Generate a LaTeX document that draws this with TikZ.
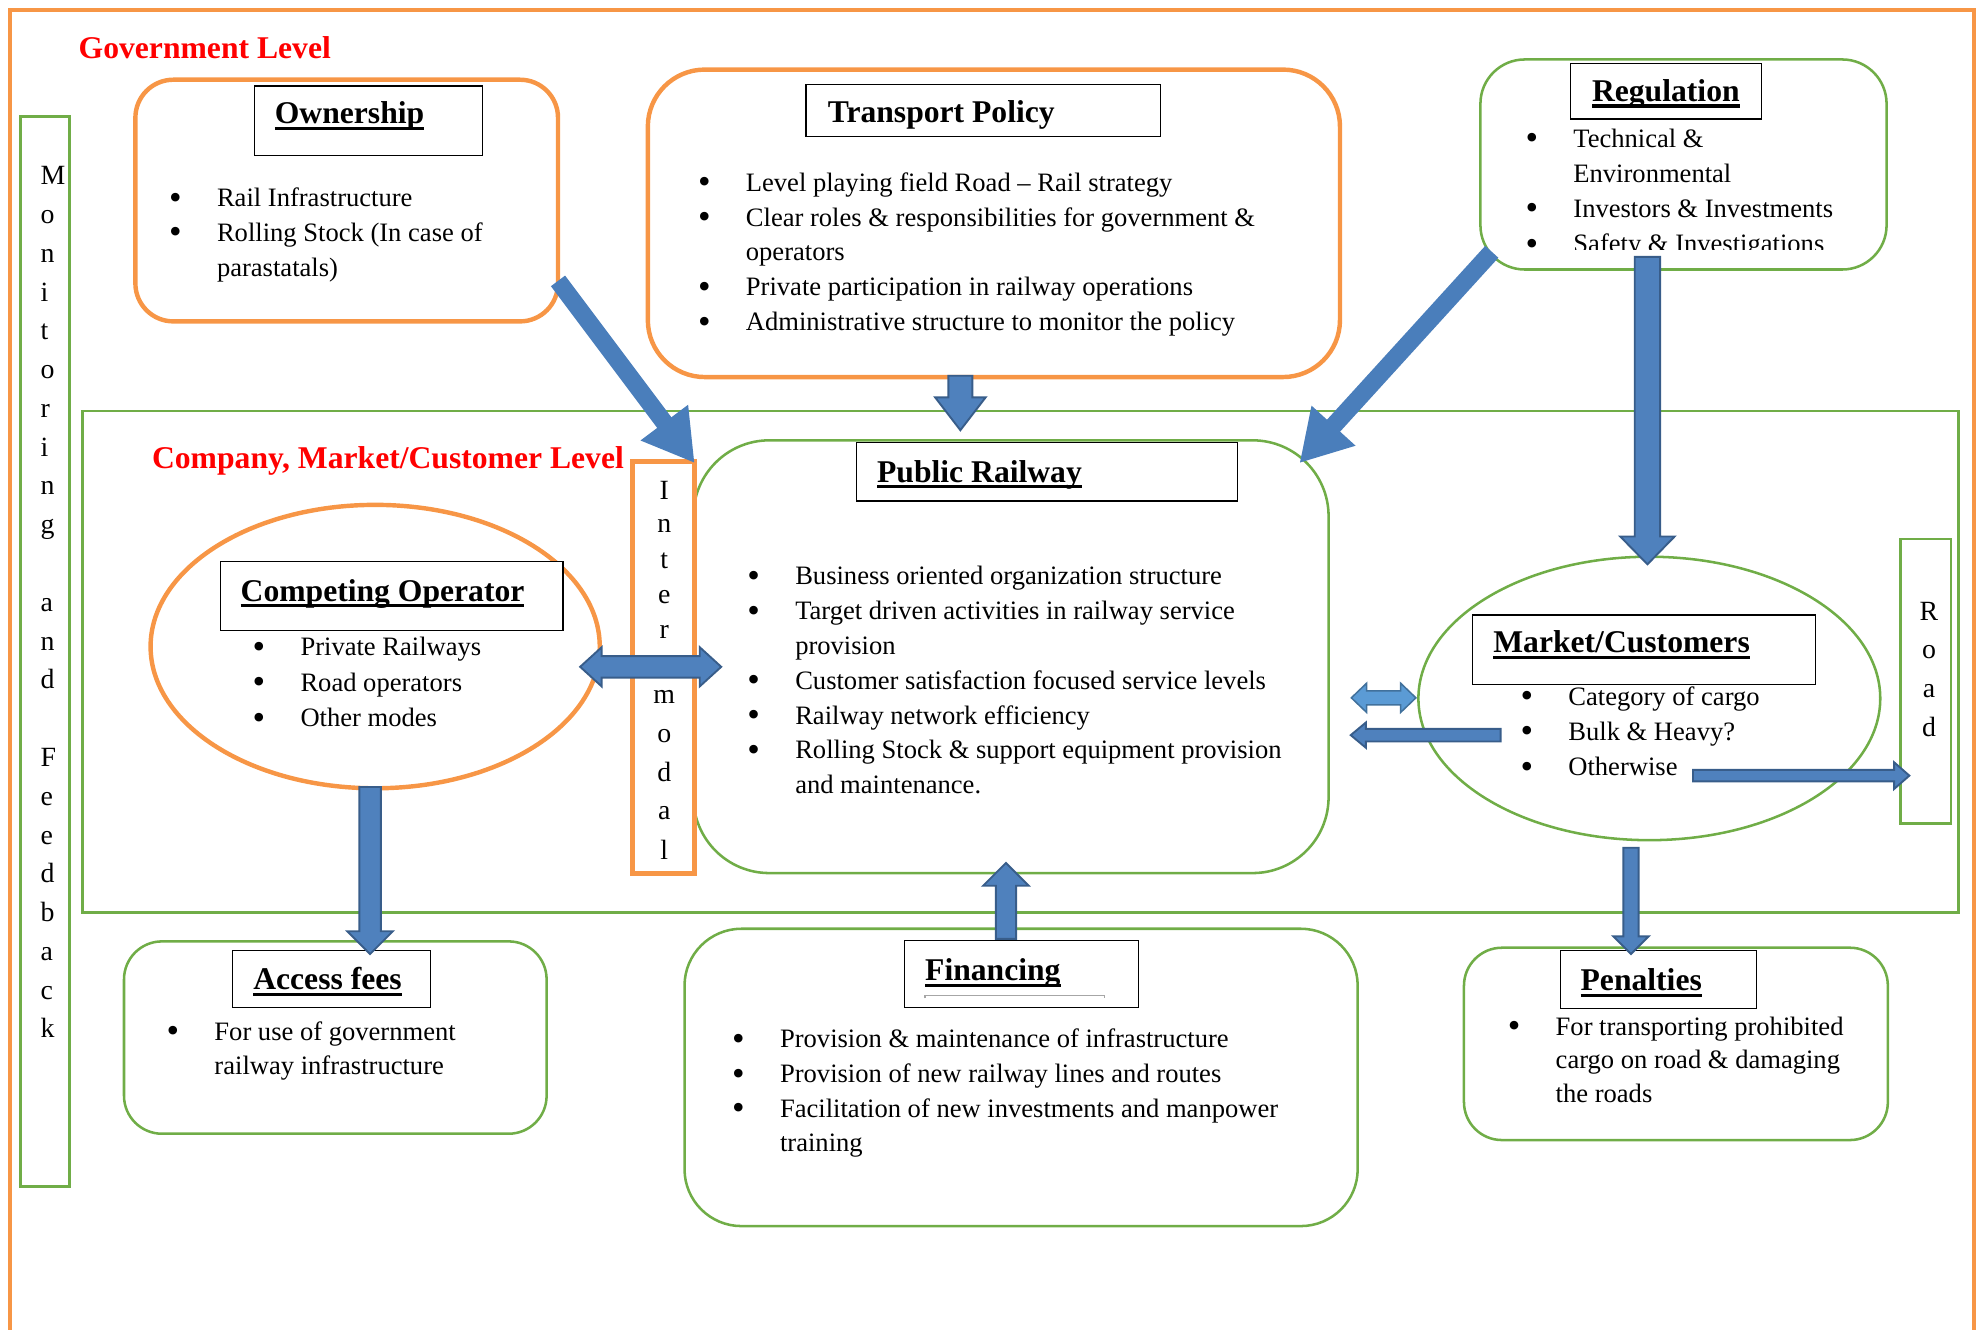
\documentclass[tikz,border=0pt]{standalone}
\usepackage{fontspec}
\usepackage{graphicx}
\setmainfont{Liberation Serif}
\usetikzlibrary{shapes.geometric,arrows.meta,calc}
\definecolor{oOrange}{HTML}{F79646}
\definecolor{oGreen}{HTML}{70AD47}
\definecolor{aBlue}{HTML}{4A7EBB}
\definecolor{bFill}{HTML}{4F81BD}
\definecolor{bLine}{HTML}{385D8A}
\definecolor{lFill}{HTML}{5B9BD5}
\definecolor{lLine}{HTML}{41719C}
\newcommand\bul{\makebox[37pt][l]{\hspace*{-0.8pt}\raisebox{-2pt}{\scalebox{1.35}{\textbullet}}}}
\newcommand\ind{\hspace*{37pt}}
\newcommand\ulh[1]{\setbox0=\hbox{#1}\rlap{\rule[-5pt]{\wd0}{2.5pt}}\box0}
\newcommand\blockarrow[6][]{%
  \path ($(#3)!#6!(#2)$) coordinate (hb);
  \draw[blk,#1] ($(#2)!#4!90:(#3)$) -- ($(hb)!#4!90:(#3)$) -- ($(hb)!#5!90:(#3)$) -- (#3) -- ($(hb)!#5!-90:(#3)$) -- ($(hb)!#4!-90:(#3)$) -- ($(#2)!#4!-90:(#3)$) -- cycle;}
\newcommand\dblarrow[6][]{%
  \path ($(#2)!#6!(#3)$) coordinate (hba) ($(#3)!#6!(#2)$) coordinate (hbb);
  \draw[blk,#1] (#2) -- ($(hba)!#5!90:(#3)$) -- ($(hba)!#4!90:(#3)$) -- ($(hbb)!#4!-90:(#2)$) -- ($(hbb)!#5!-90:(#2)$) -- (#3) -- ($(hbb)!#5!90:(#2)$) -- ($(hbb)!#4!90:(#2)$) -- ($(hba)!#4!-90:(#3)$) -- ($(hba)!#5!-90:(#3)$) -- cycle;}
\begin{document}
\begin{tikzpicture}[x=1pt,y=-1pt,
  obox/.style={draw=oOrange, line width=3.5pt, rounded corners=#1, inner sep=0pt},
  gbox/.style={draw=oGreen, line width=2pt, rounded corners=#1, inner sep=0pt},
  tbox/.style={draw=black, line width=0.9pt, fill=white, inner sep=0pt},
  bodytxt/.style={font=\fontsize{21}{#1}\selectfont, align=left, inner sep=0pt, anchor=north west},
  hdtxt/.style={font=\fontsize{25}{30}\selectfont\bfseries, inner sep=0pt, anchor=base west},
  redtxt/.style={hdtxt, text=red},
  vl/.style={font=\fontsize{22}{26}\selectfont, inner sep=0pt},
  larrow/.style={aBlue, line width=14pt, -{Triangle[length=40pt,width=44pt]}},
  blk/.style={fill=bFill, draw=bLine, line width=1.5pt, line join=miter},
  lblk/.style={fill=lFill, draw=lLine, line width=1.2pt}]
\useasboundingbox (0,0) rectangle (1568,1051);
% outer frame
\node[draw=oOrange, line width=3pt, minimum width=1552, minimum height=1070, inner sep=0pt] (frame) at (784,543) {};
\node[redtxt] (govL) at (62,46) {Government Level};
% monitoring and feedback
\node[draw=oGreen, line width=2.2pt, minimum width=39, minimum height=846, inner sep=0pt] (mon) at (35.5,515) {};
\foreach \ch [count=\i from 0] in {M,o,n,i,t,o,r,i,n,g,{},a,n,d,{},F,e,e,d,b,a,c,k}
  \node[vl, anchor=base west] (mf\i) at (32,146+30.65*\i) {\ch};
% company level
\node[draw=oGreen, line width=2pt, minimum width=1483, minimum height=396, inner sep=0pt] (comp) at (806.5,523) {};
\node[redtxt] (compL) at (120,370) {Company, Market/Customer Level};
% ownership
\node[obox=30, minimum width=334, minimum height=191] (own) at (274,158.5) {};
\node[tbox, minimum width=180, minimum height=55] (ownT) at (291,95.5) {};
\node[hdtxt] (ownH) at (217,98) {\ulh{Ownership}};
\node[bodytxt=27.5] (ownL) at (134.3,163-0.7*27.5) {\strut\bul Rail Infrastructure\\ \bul Rolling Stock (In case of\\ \ind parastatals)};
% transport policy
\node[obox=45, minimum width=547, minimum height=243] (tp) at (785.5,176.5) {};
\node[tbox, minimum width=280, minimum height=41] (tpT) at (777,87.5) {};
\node[hdtxt] (tpH) at (654,97) {Transport Policy};
\node[bodytxt=27.5] (tpL) at (552.3,151-0.7*27.5) {\strut\bul Level playing field Road – Rail strategy\\ \bul Clear roles \& responsibilities for government \&\\ \ind operators\\ \bul Private participation in railway operations\\ \bul Administrative structure to monitor the policy};
% regulation
\node[gbox=35, minimum width=321, minimum height=166] (reg) at (1330.5,130) {};
\node[tbox, minimum width=151, minimum height=44] (regT) at (1316.5,72) {};
\node[hdtxt] (regH) at (1258,80) {\ulh{Regulation}};
\begin{scope}
\clip (1190,95) rectangle (1480,197);
\node[bodytxt=27.8] (regL) at (1206.3,116-0.7*27.8) {\strut\bul Technical \&\\ \ind Environmental\\ \bul Investors \& Investments\\ \bul Safety \& Investigations};
\end{scope}
% competing operator
\node[ellipse, draw=oOrange, line width=3.5pt, minimum width=355, minimum height=224, inner sep=0pt] (cop) at (296.5,511) {};
\node[tbox, minimum width=271, minimum height=54] (copT) at (309.5,471) {};
\node[hdtxt] (copH) at (190,475) {\ulh{Competing Operator}};
\node[bodytxt=28] (copL) at (200.3,518-0.7*28) {\strut\bul Private Railways\\ \bul Road operators\\ \bul Other modes};
% public railway
\node[gbox=60, minimum width=502, minimum height=342] (pr) at (799,519) {};
\node[tbox, minimum width=301, minimum height=46] (prT) at (827.5,373) {};
\node[hdtxt] (prH) at (693,381) {\ulh{Public Railway}};
\node[bodytxt=27.5] (prL) at (591.3,462-0.7*27.5) {\strut\bul Business oriented organization structure\\ \bul Target driven activities in railway service\\ \ind provision\\ \bul Customer satisfaction focused service levels\\ \bul Railway network efficiency\\ \bul Rolling Stock \& support equipment provision\\ \ind and maintenance.};
% intermodal
\node[draw=oOrange, line width=4pt, minimum width=49, minimum height=325, inner sep=0pt] (im) at (524.5,527.5) {};
\foreach \ch/\yy [count=\i] in {I/395,n/421,t/449,e/477,r/505,m/556,o/587,d/618,a/648,l/679}
  \node[vl, anchor=base] (im\i) at (525,\yy) {\ch};
% market / customers
\node[ellipse, draw=oGreen, line width=2pt, minimum width=365, minimum height=224, inner sep=0pt] (mkt) at (1303.5,552) {};
\node[tbox, minimum width=271, minimum height=55] (mktT) at (1299.5,513.5) {};
\node[hdtxt] (mktH) at (1180,516) {\ulh{Market/Customers}};
\node[bodytxt=28] (mktL) at (1202.3,557-0.7*28) {\strut\bul Category of cargo\\ \bul Bulk \& Heavy?\\ \bul Otherwise};
% road
\node[draw=oGreen, line width=2pt, minimum width=40, minimum height=225, inner sep=0pt] (road) at (1522,538.5) {};
\foreach \ch [count=\i from 0] in {R,o,a,d}
  \node[vl, anchor=base] (rd\i) at (1524.5,490+30.7*\i) {\ch};
% access fees
\node[gbox=30, minimum width=334, minimum height=152] (acc) at (265,820) {};
\node[tbox, minimum width=156, minimum height=45] (accT) at (262,773.5) {};
\node[hdtxt] (accH) at (200,782) {\ulh{Access fees}};
\node[bodytxt=27] (accL) at (132.3,822-0.7*27) {\strut\bul For use of government\\ \ind railway infrastructure};
% financing
\node[gbox=45, minimum width=532, minimum height=235] (fin) at (807,851.5) {};
\node[tbox, minimum width=185, minimum height=53] (finT) at (807.5,769.5) {};
\node[hdtxt] (finH) at (731,775) {\ulh{Financing}};
\draw[black!35, line width=1pt] (731,789) -- (731,786.5) -- (873,786.5) -- (873,789);
\node[bodytxt=27.3] (finL) at (579.3,828-0.7*27.3) {\strut\bul Provision \& maintenance of infrastructure\\ \bul Provision of new railway lines and routes\\ \bul Facilitation of new investments and manpower\\ \ind training};
% penalties
\node[gbox=30, minimum width=335, minimum height=152] (pen) at (1324.5,825) {};
\node[tbox, minimum width=155, minimum height=46] (penT) at (1310.5,774) {};
\node[hdtxt] (penH) at (1249,783) {\ulh{Penalties}};
\node[bodytxt=26.5] (penL) at (1192.3,818-0.7*26.5) {\strut\bul For transporting prohibited\\ \ind cargo on road \& damaging\\ \ind the roads};
% arrow end points
\coordinate (oa1) at (441,222); \coordinate (oa2) at (549,366);
\coordinate (ra1) at (1179,199); \coordinate (ra2) at (1027,366);
\coordinate (tpa1) at (759,297); \coordinate (tpa2) at (759,340);
\coordinate (rga1) at (1302,203); \coordinate (rga2) at (1302,446);
\coordinate (ima1) at (458.5,527); \coordinate (ima2) at (570,527);
\coordinate (sda1) at (1068,551.5); \coordinate (sda2) at (1119,551.5);
\coordinate (mla1) at (1186,581); \coordinate (mla2) at (1067.5,581);
\coordinate (ora1) at (1338,613); \coordinate (ora2) at (1509,613);
\coordinate (mda1) at (1289,670); \coordinate (mda2) at (1289,754);
\coordinate (cda1) at (292.5,622); \coordinate (cda2) at (292.5,754);
\coordinate (fua1) at (795,742); \coordinate (fua2) at (795,682);
% line arrows
\draw[larrow] (oa1) -- (oa2);
\draw[larrow] (ra1) -- (ra2);
% block arrows
\blockarrow{tpa1}{tpa2}{9.5pt}{20pt}{26pt}
\blockarrow{rga1}{rga2}{10pt}{21.5pt}{22pt}
\dblarrow{ima1}{ima2}{8.5pt}{15.5pt}{17pt}
\dblarrow[lblk]{sda1}{sda2}{5.5pt}{11.5pt}{12pt}
\blockarrow{mla1}{mla2}{5pt}{10pt}{12pt}
\blockarrow{ora1}{ora2}{4.5pt}{10.5pt}{12pt}
\blockarrow{mda1}{mda2}{6pt}{14pt}{14pt}
\blockarrow{cda1}{cda2}{8.5pt}{18pt}{18pt}
\blockarrow{fua1}{fua2}{8pt}{18pt}{18pt}
\end{tikzpicture}
\end{document}
